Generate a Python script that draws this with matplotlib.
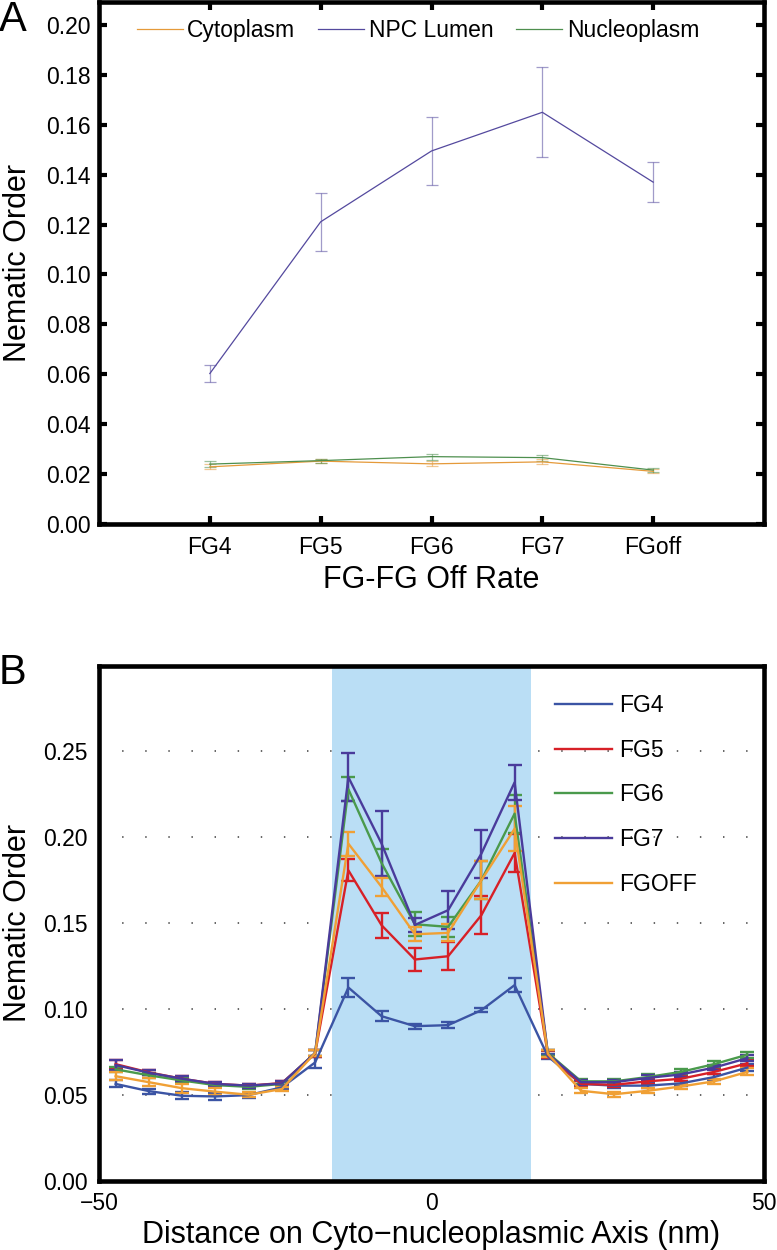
import matplotlib
matplotlib.use("Agg")
import matplotlib.pyplot as plt
from matplotlib.lines import Line2D
from matplotlib.ticker import FormatStrFormatter, FixedLocator

plt.rcParams['font.family'] = ['Liberation Sans', 'DejaVu Sans']

# ---------------- Panel A data ----------------
categories = ['FG4', 'FG5', 'FG6', 'FG7', 'FGoff']
cyto = [0.0229, 0.0252, 0.0241, 0.0249, 0.0211]
cyto_err = [0.0010, 0.0008, 0.0010, 0.0010, 0.0008]
npc = [0.0603, 0.1211, 0.1495, 0.1650, 0.1370]
npc_err = [0.0035, 0.0115, 0.0135, 0.0180, 0.0080]
nucleo = [0.0240, 0.0254, 0.0270, 0.0266, 0.0216]
nucleo_err = [0.0012, 0.0008, 0.0012, 0.0012, 0.0008]
series_a = ['Cytoplasm', 'NPC Lumen', 'Nucleoplasm']
yticks_a = [0.00, 0.02, 0.04, 0.06, 0.08, 0.10, 0.12, 0.14, 0.16, 0.18, 0.20]

# ---------------- Panel B data ----------------
dist = [-47.5, -42.5, -37.5, -32.5, -27.5, -22.5, -17.5, -12.5, -7.5, -2.5,
        2.5, 7.5, 12.5, 17.5, 22.5, 27.5, 32.5, 37.5, 42.5, 47.5]
fg4 = [0.0565, 0.0523, 0.0496, 0.0492, 0.0500, 0.0545, 0.0690, 0.1126, 0.0959, 0.0901,
       0.0907, 0.0994, 0.1140, 0.0725, 0.0565, 0.0555, 0.0555, 0.0568, 0.0605, 0.0660]
fg4_err = [0.0020, 0.0015, 0.0020, 0.0018, 0.0015, 0.0012, 0.0030, 0.0057, 0.0030, 0.0015,
           0.0018, 0.0010, 0.0040, 0.0015, 0.0015, 0.0015, 0.0015, 0.0015, 0.0015, 0.0018]
fg5 = [0.0680, 0.0632, 0.0595, 0.0565, 0.0555, 0.0570, 0.0742, 0.1808, 0.1488, 0.1289,
       0.1308, 0.1547, 0.1909, 0.0735, 0.0565, 0.0560, 0.0580, 0.0595, 0.0635, 0.0685]
fg5_err = [0.0025, 0.0015, 0.0015, 0.0012, 0.0012, 0.0012, 0.0020, 0.0064, 0.0073, 0.0065,
           0.0080, 0.0110, 0.0110, 0.0020, 0.0015, 0.0015, 0.0015, 0.0015, 0.0015, 0.0018]
fg6 = [0.0650, 0.0615, 0.0585, 0.0558, 0.0548, 0.0565, 0.0745, 0.2280, 0.1850, 0.1494,
       0.1479, 0.1750, 0.2138, 0.0745, 0.0580, 0.0580, 0.0605, 0.0635, 0.0680, 0.0735]
fg6_err = [0.0015, 0.0015, 0.0012, 0.0012, 0.0012, 0.0012, 0.0020, 0.0070, 0.0080, 0.0070,
           0.0060, 0.0110, 0.0110, 0.0020, 0.0015, 0.0015, 0.0015, 0.0015, 0.0018, 0.0018]
fg7 = [0.0675, 0.0630, 0.0595, 0.0565, 0.0555, 0.0568, 0.0745, 0.2350, 0.1963, 0.1490,
       0.1576, 0.1905, 0.2320, 0.0740, 0.0575, 0.0575, 0.0600, 0.0620, 0.0660, 0.0715]
fg7_err = [0.0030, 0.0015, 0.0015, 0.0012, 0.0012, 0.0012, 0.0020, 0.0140, 0.0190, 0.0040,
           0.0110, 0.0140, 0.0100, 0.0020, 0.0015, 0.0015, 0.0015, 0.0015, 0.0015, 0.0018]
fgoff = [0.0610, 0.0575, 0.0540, 0.0520, 0.0502, 0.0535, 0.0745, 0.1963, 0.1711, 0.1436,
         0.1444, 0.1750, 0.2050, 0.0740, 0.0525, 0.0505, 0.0525, 0.0550, 0.0580, 0.0635]
fgoff_err = [0.0025, 0.0025, 0.0025, 0.0020, 0.0015, 0.0012, 0.0020, 0.0070, 0.0050, 0.0040,
             0.0050, 0.0110, 0.0130, 0.0020, 0.0015, 0.0015, 0.0015, 0.0015, 0.0015, 0.0020]
series_b = ['FG4', 'FG5', 'FG6', 'FG7', 'FGOFF']
pore_region = (-15, 15)
yticks_b = [0.00, 0.05, 0.10, 0.15, 0.20, 0.25]
xticks_b = [-50, 0, 50]

W, H = 777, 1250
fig = plt.figure(figsize=(W / 100, H / 100), dpi=100)
TICK_FS = 16.5
LABEL_FS = 22

def frac_rect(left, top, right, bottom):
    return [left / W, 1 - bottom / H, (right - left) / W, (bottom - top) / H]

# ================= Panel A =================
axA = fig.add_axes(frac_rect(99, 1.5, 764, 524))
cols_a = ['#E59A3A', '#54499E', '#4E8F4E']
xs = list(range(1, len(categories) + 1))
for vals, errs, c, lab in zip([cyto, npc, nucleo], [cyto_err, npc_err, nucleo_err], cols_a, series_a):
    axA.plot(xs, vals, color=c, lw=0.9, label=lab, zorder=3)
    axA.errorbar(xs, vals, yerr=errs, fmt='none', ecolor=c, alpha=0.55,
                 elinewidth=0.9, capsize=4, capthick=0.9, zorder=2)
axA.set_xlim(0, 6)
axA.set_ylim(0, 0.2094)
axA.set_xticks(xs)
axA.set_xticklabels(categories)
axA.yaxis.set_major_locator(FixedLocator(yticks_a))
axA.yaxis.set_major_formatter(FormatStrFormatter('%.2f'))
axA.tick_params(axis='both', which='both', direction='in', length=6, width=3,
                top=True, right=True, labelsize=TICK_FS)
axA.tick_params(axis='y', pad=6)
axA.tick_params(axis='x', pad=9)
for s in axA.spines.values():
    s.set_linewidth(3.3)
axA.legend(loc='center left', bbox_to_anchor=(0.057, 0.945), ncol=3, frameon=False,
           fontsize=TICK_FS, handlelength=2.0, handletextpad=0.2, columnspacing=1.0,
           borderpad=0, borderaxespad=0)

fig.text(18 / W, 1 - 263 / H, 'Nematic Order', rotation=90, ha='center', va='center', fontsize=LABEL_FS)
fig.text(431.5 / W, 1 - 580 / H, 'FG-FG Off Rate', ha='center', va='center', fontsize=LABEL_FS)
fig.text(-0.002, 1 - 20 / H, 'A', ha='left', va='center', fontsize=30)

# ================= Panel B =================
axB = fig.add_axes(frac_rect(99, 665.5, 764, 1181))
axB.set_axisbelow(True)
axB.axvspan(pore_region[0], pore_region[1], color='#BADEF5', lw=0, zorder=1)
cols_b = ['#3B54A4', '#D72027', '#4A9A4C', '#4A3B9B', '#F0A035']
handles = []
for vals, errs, c, lab in zip([fg4, fg5, fg6, fg7, fgoff],
                              [fg4_err, fg5_err, fg6_err, fg7_err, fgoff_err], cols_b, series_b):
    axB.errorbar(dist, vals, yerr=errs, color=c, lw=1.7, elinewidth=1.7, capsize=5,
                 capthick=1.7, zorder=3)
    handles.append(Line2D([], [], color=c, lw=1.7, label=lab))
axB.set_xlim(-50, 50)
axB.set_ylim(0, 0.30)
axB.set_xticks(xticks_b)
axB.yaxis.set_major_locator(FixedLocator(yticks_b))
axB.yaxis.set_major_formatter(FormatStrFormatter('%.2f'))
axB.yaxis.grid(True, linestyle=(0, (0.8, 12)), color='0.35', lw=1.3)
axB.tick_params(axis='both', length=0, labelsize=TICK_FS)
axB.tick_params(axis='y', pad=8)
axB.tick_params(axis='x', pad=8)
for s in axB.spines.values():
    s.set_linewidth(3.3)
axB.legend(handles=handles, loc='upper left', bbox_to_anchor=(0.686, 0.945), frameon=False,
           fontsize=TICK_FS, handlelength=2.5, handletextpad=0.3, labelspacing=0.95,
           borderpad=0, borderaxespad=0)

fig.text(18 / W, 1 - 923 / H, 'Nematic Order', rotation=90, ha='center', va='center', fontsize=LABEL_FS)
fig.text(431.5 / W, 1 - 1235 / H, 'Distance on Cyto\u2212nucleoplasmic Axis (nm)',
         ha='center', va='center', fontsize=LABEL_FS)
fig.text(-0.002, 1 - 673 / H, 'B', ha='left', va='center', fontsize=30)

fig.savefig('out.png', dpi=100)
